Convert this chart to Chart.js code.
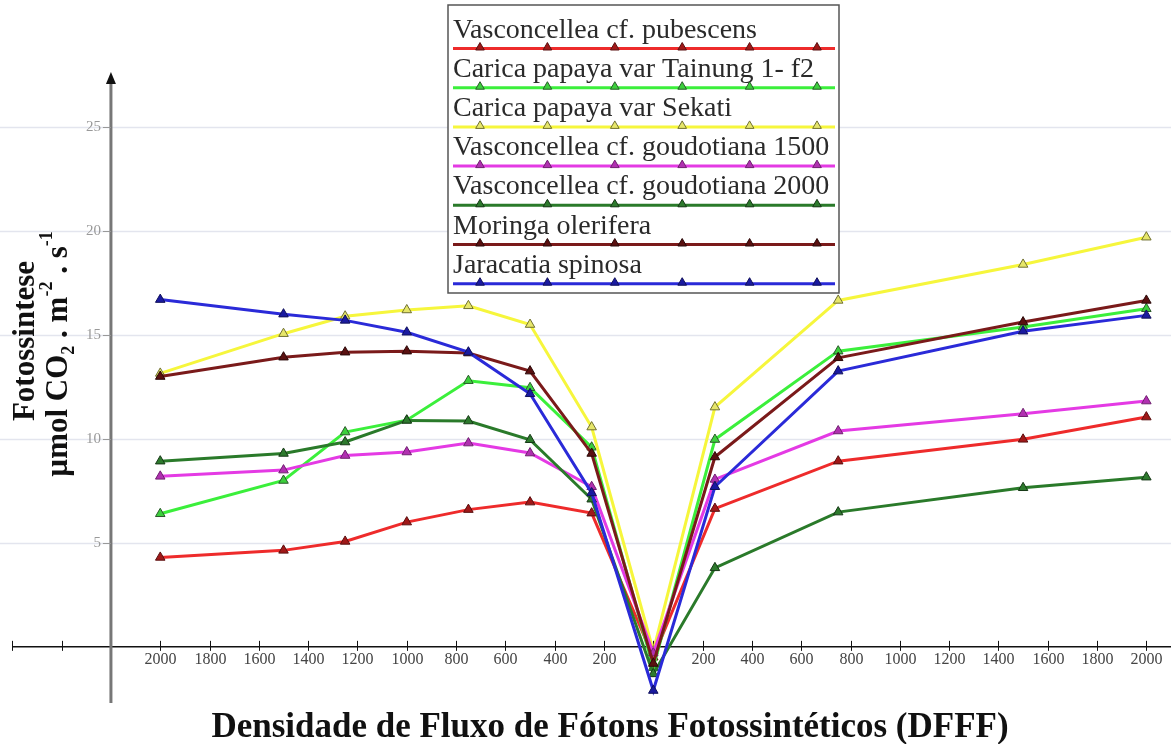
<!DOCTYPE html>
<html>
<head>
<meta charset="utf-8">
<script src="https://cdn.jsdelivr.net/npm/chart.js@4.4.0/dist/chart.umd.min.js"></script>
<style>
  html, body { margin: 0; padding: 0; background: #fff; }
</style>
</head>
<body>
<canvas id="chart" width="1171" height="744"></canvas>
<script>
// Photon flux density; the left half of the axis is mirrored (2000 -> 0),
// so those readings are stored as negative positions on one linear scale.
const lightLevels = [-2000, -1500, -1250, -1000, -750, -500, -250, 0, 250, 750, 1500, 2000];

const seriesNames = [
  "Vasconcellea cf. pubescens",
  "Carica papaya var Tainung 1- f2",
  "Carica papaya var Sekati",
  "Vasconcellea cf. goudotiana 1500",
  "Vasconcellea cf. goudotiana 2000",
  "Moringa olerifera",
  "Jaracatia spinosa",
];

const pubescens   = [4.3, 4.64, 5.07, 6.0, 6.6, 6.96, 6.43, -0.5, 6.65, 8.93, 9.98, 11.05];
const tainung     = [6.4, 8.0, 10.33, 10.9, 12.8, 12.46, 9.6, -1.0, 9.97, 14.22, 15.38, 16.26];
const sekati      = [13.15, 15.06, 15.9, 16.2, 16.4, 15.5, 10.57, -0.2, 11.53, 16.66, 18.39, 19.7];
const goud1500    = [8.2, 8.5, 9.2, 9.37, 9.8, 9.32, 7.7, -0.3, 8.05, 10.38, 11.21, 11.82];
const goud2000    = [8.93, 9.3, 9.85, 10.89, 10.86, 9.96, 7.1, -1.3, 3.8, 6.48, 7.65, 8.16];
const moringa     = [13.0, 13.93, 14.17, 14.22, 14.13, 13.26, 9.3, -0.8, 9.13, 13.9, 15.62, 16.66];
const jaracatia   = [16.7, 16.0, 15.7, 15.13, 14.17, 12.17, 7.4, -2.1, 7.7, 13.26, 15.18, 15.94];

const seriesValues = [pubescens, tainung, sekati, goud1500, goud2000, moringa, jaracatia];

// tick marks along the x axis; labels are the absolute value, 200..2000 only
const xTickValues = [-2600, -2400, -2200, -2000, -1800, -1600, -1400, -1200, -1000, -800, -600, -400, -200,
  0, 200, 400, 600, 800, 1000, 1200, 1400, 1600, 1800, 2000];
const yTickValues = [5, 10, 15, 20, 25];
const yAxisAt = -2200; // the vertical axis crosses the x axis here

const lineColors  = ["#ee2b2b", "#3bef3b", "#f6f63c", "#e43ae4", "#2a7a2a", "#7a1a1a", "#2a2ad8"];
const markerFills = ["#a01818", "#3ccf3c", "#e6e66a", "#b030b0", "#2d7a2d", "#5a1010", "#1a1aa0"];
const markerEdges = ["#5a1010", "#2a5a2a", "#707030", "#702070", "#163816", "#2a0808", "#10105a"];

const SERIF = '"Liberation Serif", "Times New Roman", serif';

function triangle(ctx, x, y, r, fill, edge) {
  const h = r * Math.sqrt(3) / 2;
  ctx.beginPath();
  ctx.moveTo(x, y - r);
  ctx.lineTo(x + h, y + r / 2);
  ctx.lineTo(x - h, y + r / 2);
  ctx.closePath();
  ctx.fillStyle = fill;
  ctx.fill();
  ctx.lineWidth = 1;
  ctx.strokeStyle = edge;
  ctx.stroke();
}

// Axes crossing inside the plot, light gridlines, tick crosses
const crossAxes = {
  id: "crossAxes",
  beforeDatasetsDraw(chart) {
    const { ctx, chartArea, scales: { x, y } } = chart;
    const ax = x.getPixelForValue(yAxisAt);
    const ay = y.getPixelForValue(0);
    ctx.save();
    // gridlines
    ctx.strokeStyle = "#e3e5ee";
    ctx.lineWidth = 1.5;
    yTickValues.forEach((v) => {
      const py = Math.round(y.getPixelForValue(v)) + 0.5;
      ctx.beginPath();
      ctx.moveTo(chartArea.left, py);
      ctx.lineTo(chartArea.right, py);
      ctx.stroke();
    });
    // x axis
    ctx.strokeStyle = "#111";
    ctx.lineWidth = 1.5;
    ctx.beginPath();
    ctx.moveTo(x.getPixelForValue(xTickValues[0]), ay);
    ctx.lineTo(chartArea.right, ay);
    ctx.stroke();
    ctx.lineWidth = 1;
    ctx.font = "16px " + SERIF;
    ctx.fillStyle = "#444";
    ctx.textAlign = "center";
    ctx.textBaseline = "middle";
    xTickValues.forEach((v) => {
      const px = Math.round(x.getPixelForValue(v)) + 0.5;
      ctx.beginPath();
      ctx.moveTo(px, ay - 6);
      ctx.lineTo(px, ay + 4);
      ctx.stroke();
      const a = Math.abs(v);
      if (a >= 200 && a <= 2000) ctx.fillText(String(a), px, ay + 13);
    });
    // y axis
    ctx.strokeStyle = "#777";
    ctx.lineWidth = 3;
    ctx.beginPath();
    ctx.moveTo(ax, chartArea.bottom);
    ctx.lineTo(ax, chartArea.top + 6);
    ctx.stroke();
    ctx.fillStyle = "#111";
    ctx.beginPath();
    ctx.moveTo(ax, chartArea.top - 3);
    ctx.lineTo(ax - 5, chartArea.top + 9);
    ctx.lineTo(ax + 5, chartArea.top + 9);
    ctx.closePath();
    ctx.fill();
    ctx.lineWidth = 1;
    ctx.strokeStyle = "#999";
    ctx.fillStyle = "#999";
    ctx.font = "15px " + SERIF;
    ctx.textAlign = "right";
    yTickValues.forEach((v) => {
      const py = Math.round(y.getPixelForValue(v)) + 0.5;
      ctx.beginPath();
      ctx.moveTo(ax - 8, py);
      ctx.lineTo(ax, py);
      ctx.stroke();
      ctx.fillText(String(v), ax - 10, py);
    });
    ctx.restore();
  },
};

// Boxed legend with a line sample under each name, and the axis titles
const boxLegend = {
  id: "boxLegend",
  afterDraw(chart) {
    const { ctx } = chart;
    ctx.save();
    const left = 448, top = 5, right = 839, bottom = 293;
    ctx.fillStyle = "#fff";
    ctx.fillRect(left, top, right - left, bottom - top);
    ctx.strokeStyle = "#555";
    ctx.lineWidth = 1.5;
    ctx.strokeRect(left, top, right - left, bottom - top);
    ctx.font = "28px " + SERIF;
    ctx.textAlign = "left";
    ctx.textBaseline = "alphabetic";
    chart.data.datasets.forEach((ds, i) => {
      const base = 37.5 + i * 39.2;
      const ly = base + 11;
      ctx.fillStyle = "#2a2a2a";
      ctx.fillText(ds.label, 453, base);
      ctx.strokeStyle = ds.borderColor;
      ctx.lineWidth = 3;
      ctx.beginPath();
      ctx.moveTo(453, ly);
      ctx.lineTo(835, ly);
      ctx.stroke();
      for (let k = 0; k < 6; k++) {
        triangle(ctx, 480 + k * 67.4, ly - 1, 5, ds.pointBackgroundColor, ds.pointBorderColor);
      }
    });

    // x title
    ctx.fillStyle = "#111";
    ctx.font = "bold 35px " + SERIF;
    ctx.textAlign = "center";
    ctx.fillText("Densidade de Fluxo de Fótons Fotossintéticos (DFFF)", 610, 737);

    // y title, two rotated lines
    ctx.save();
    ctx.translate(34, 341);
    ctx.rotate(-Math.PI / 2);
    ctx.font = "bold 31px " + SERIF;
    ctx.fillText("Fotossintese", 0, 0);
    ctx.restore();

    const runs = [
      ["µmol CO", 31, 0],
      ["2", 18, 7],
      [" . ", 31, 0],
      ["m", 31, 0],
      ["-2", 18, -15],
      [" . ", 31, 0],
      ["s", 31, 0],
      ["-1", 18, -15],
    ];
    ctx.save();
    ctx.translate(67, 354);
    ctx.rotate(-Math.PI / 2);
    ctx.textAlign = "left";
    let total = 0;
    runs.forEach((r) => {
      ctx.font = "bold " + r[1] + "px " + SERIF;
      total += ctx.measureText(r[0]).width;
    });
    let cx = -total / 2;
    runs.forEach((r) => {
      ctx.font = "bold " + r[1] + "px " + SERIF;
      ctx.fillText(r[0], cx, r[2]);
      cx += ctx.measureText(r[0]).width;
    });
    ctx.restore();
    ctx.restore();
  },
};

const ctx = document.getElementById("chart");

// eslint-disable-next-line no-unused-vars
const chart = new Chart(ctx, {
  type: "line",
  data: {
    datasets: seriesNames.map((name, i) => ({
      label: name,
      data: lightLevels.map((lx, j) => ({ x: lx, y: seriesValues[i][j] })),
      borderColor: lineColors[i],
      backgroundColor: lineColors[i],
      borderWidth: 3,
      tension: 0,
      pointStyle: "triangle",
      pointRadius: 5.5,
      pointBorderWidth: 1,
      pointBackgroundColor: markerFills[i],
      pointBorderColor: markerEdges[i],
      order: seriesNames.length - i,
    })),
  },
  options: {
    responsive: false,
    animation: false,
    devicePixelRatio: 1,
    layout: {
      autoPadding: false,
      padding: { top: 75, bottom: 41, left: 0, right: 0 },
    },
    scales: {
      x: { type: "linear", min: -2650, max: 2100, display: false },
      y: { type: "linear", min: -2.7, max: 27.5, display: false },
    },
    plugins: {
      legend: { display: false },
      tooltip: { enabled: false },
    },
  },
  plugins: [crossAxes, boxLegend],
});
</script>
</body>
</html>
